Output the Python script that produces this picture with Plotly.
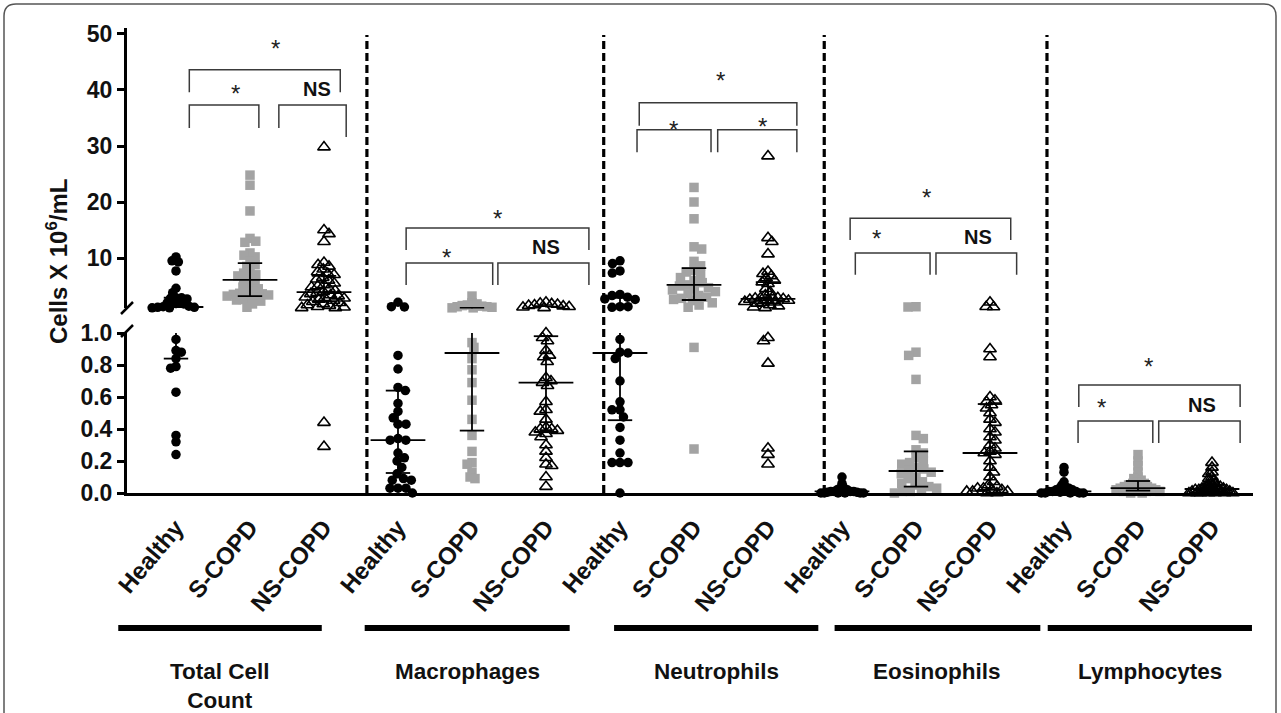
import math
import plotly.graph_objects as go

# ---------------- data ----------------
panels = ["Total Cell<br>Count", "Macrophages", "Neutrophils", "Eosinophils", "Lymphocytes"]
subjects = ["Healthy", "S-COPD", "NS-COPD"]

tcc_healthy = [10.2, 9.5, 9.3, 7.7, 4.6, 3.8, 2.9, 2.9, 2.8, 2.7, 2.0, 2.0, 1.9, 1.8, 1.4, 1.3, 1.2, 1.2,
               1.1, 1.1, 0.96, 0.89, 0.88, 0.84, 0.79, 0.78, 0.63, 0.36, 0.32, 0.24]
tcc_scopd = [24.8, 23.0, 18.4, 13.5, 13.0, 12.8, 10.9, 10.5, 10.2, 9.5, 8.8, 8.5, 7.5, 7.3, 7.0, 6.8, 6.2,
             6.0, 5.5, 5.0, 4.8, 4.5, 4.0, 3.8, 3.7, 3.6, 3.5, 3.4, 3.2, 3.0, 2.8, 2.6, 2.5, 2.3, 1.8, 1.2]
tcc_nscopd = [29.8, 15.0, 14.3, 12.9, 9.2, 8.8, 8.5, 8.0, 7.5, 7.2, 7.0, 6.5, 6.2, 6.0, 5.5, 5.2, 5.0, 4.8,
              4.5, 4.2, 4.0, 3.8, 3.6, 3.4, 3.2, 3.0, 2.9, 2.8, 2.6, 2.4, 2.2, 2.0, 1.8, 1.6, 1.5, 1.3,
              1.2, 1.1, 1.1, 0.44, 0.29]

mac_healthy = [2.1, 1.3, 1.25, 0.86, 0.775, 0.66, 0.64, 0.56, 0.51, 0.47, 0.43, 0.43, 0.34, 0.33, 0.33,
               0.25, 0.22, 0.20, 0.16, 0.12, 0.09, 0.08, 0.08, 0.03, 0.03, 0.03, 0.0]
mac_scopd = [3.2, 2.0, 1.8, 1.6, 1.5, 1.4, 1.3, 1.3, 1.2, 1.1, 1.1, 0.94, 0.91, 0.84, 0.77, 0.69, 0.58,
             0.46, 0.36, 0.26, 0.19, 0.18, 0.13, 0.10, 0.09]
mac_nscopd = [2.1, 1.9, 1.8, 1.7, 1.6, 1.5, 1.4, 1.3, 1.2, 1.1, 1.0, 0.97, 0.95, 0.89, 0.86, 0.85, 0.82,
              0.72, 0.70, 0.69, 0.67, 0.57, 0.52, 0.51, 0.46, 0.41, 0.40, 0.40, 0.39, 0.38, 0.37, 0.35,
              0.30, 0.26, 0.22, 0.18, 0.17, 0.10, 0.04]

neu_healthy = [9.5, 9.0, 7.7, 7.3, 3.5, 3.3, 3.0, 2.7, 2.6, 1.3, 1.3, 1.2, 0.96, 0.88, 0.875, 0.84, 0.70,
               0.57, 0.52, 0.52, 0.475, 0.41, 0.33, 0.25, 0.19, 0.19, 0.19, 0.0]
neu_scopd = [22.6, 20.0, 17.0, 12.0, 11.6, 9.4, 8.6, 7.8, 7.5, 7.0, 6.5, 6.0, 5.6, 5.2, 5.0, 4.7, 4.5,
             4.3, 4.0, 3.6, 3.3, 3.0, 2.8, 2.6, 2.4, 2.0, 1.6, 1.2, 0.91, 0.275]
neu_nscopd = [28.2, 13.6, 12.9, 10.7, 7.6, 7.2, 6.8, 6.4, 6.0, 5.7, 5.4, 4.5, 3.9, 3.4, 3.0, 2.9, 2.9,
              2.8, 2.7, 2.6, 2.5, 2.4, 2.2, 2.1, 2.0, 1.9, 1.6, 1.4, 1.2, 1.1, 0.97, 0.95, 0.81, 0.28,
              0.24, 0.18]

eos_healthy = [0.10, 0.06, 0.04, 0.03, 0.02, 0.02, 0.02, 0.01, 0.01, 0.01, 0.01, 0.01, 0.005, 0.005,
               0.0, 0.0, 0.0, 0.0, 0.0, 0.0]
eos_scopd = [1.3, 1.25, 0.88, 0.86, 0.71, 0.36, 0.34, 0.27, 0.25, 0.22, 0.20, 0.19, 0.18, 0.16, 0.15,
             0.14, 0.13, 0.12, 0.10, 0.09, 0.07, 0.06, 0.05, 0.04, 0.03, 0.02, 0.01, 0.01, 0.0]
eos_nscopd = [2.1, 1.3, 1.25, 0.90, 0.85, 0.60, 0.58, 0.57, 0.55, 0.53, 0.50, 0.46, 0.44, 0.40, 0.38,
              0.35, 0.33, 0.30, 0.28, 0.26, 0.25, 0.24, 0.20, 0.16, 0.13, 0.10, 0.07, 0.05, 0.04, 0.03,
              0.03, 0.02, 0.02, 0.01, 0.01, 0.01, 0.0, 0.0]

lym_healthy = [0.16, 0.13, 0.07, 0.05, 0.04, 0.03, 0.03, 0.02, 0.02, 0.02, 0.01, 0.01, 0.01, 0.01,
               0.005, 0.0, 0.0, 0.0, 0.0, 0.0]
lym_scopd = [0.24, 0.20, 0.17, 0.13, 0.10, 0.09, 0.08, 0.07, 0.06, 0.06, 0.05, 0.05, 0.04, 0.04, 0.04,
             0.03, 0.03, 0.03, 0.03, 0.02, 0.02, 0.02, 0.02, 0.01, 0.01, 0.01, 0.01, 0.0, 0.0]
lym_nscopd = [0.19, 0.16, 0.13, 0.12, 0.10, 0.09, 0.08, 0.07, 0.06, 0.05, 0.05, 0.04, 0.04, 0.04, 0.03,
              0.03, 0.03, 0.03, 0.02, 0.02, 0.02, 0.02, 0.02, 0.01, 0.01, 0.01, 0.01, 0.01, 0.0, 0.0,
              0.0, 0.0, 0.0, 0.0, 0.0]

# median and interquartile range per group (same order as the groups)
median_vals = [1.25, 6.1, 3.9, 0.33, 0.875, 0.69, 0.875, 5.2, 2.7, 0.01, 0.1375, 0.25, 0.01, 0.03, 0.025]
q1_vals = [0.84, 3.2, 2.3, 0.125, 0.39, 0.38, 0.455, 2.5, 1.9, 0.0, 0.04, 0.02, 0.0, 0.015, 0.01]
q3_vals = [2.9, 9.1, 6.8, 0.64, 1.07, 0.98, 2.9, 8.2, 5.7, 0.02, 0.26, 0.556, 0.02, 0.075, 0.05]

# significance labels per panel: overall, Healthy vs S-COPD, S-COPD vs NS-COPD
sig_overall = ["*", "*", "*", "*", "*"]
sig_h_s = ["*", "*", "*", "*", "*"]
sig_s_ns = ["NS", "NS", "*", "NS", "NS"]

lower_ticks = [0.0, 0.2, 0.4, 0.6, 0.8, 1.0]
upper_ticks = [10, 20, 30, 40, 50]

groups = [tcc_healthy, tcc_scopd, tcc_nscopd,
          mac_healthy, mac_scopd, mac_nscopd,
          neu_healthy, neu_scopd, neu_nscopd,
          eos_healthy, eos_scopd, eos_nscopd,
          lym_healthy, lym_scopd, lym_nscopd]

# ---------------- layout geometry ----------------
W, H = 1281, 713
PL, PR, PT, PB = 127, 1253, 28, 493
LOW_TOP = 333.0
UP_BOT = 308.4
LOW_RANGE = [0.0, 1.0]
UP_RANGE = [1.0, 51.07]
X_RANGE = [-0.662, 14.554]
BREAK = 1.0
XPX = (PR - PL) / (X_RANGE[1] - X_RANGE[0])

FONT = "Liberation Sans, Arial, Helvetica, sans-serif"
GRAY = "#a3a3a3"
BRK = "#3a3a3a"


def xp(px):
    return (px - PL) / (PR - PL)


def yp(py):
    return (PB - py) / (PB - PT)


def y_to_px(v):
    if v > BREAK:
        return UP_BOT - (v - UP_RANGE[0]) / (UP_RANGE[1] - UP_RANGE[0]) * (UP_BOT - PT)
    return PB - (v - LOW_RANGE[0]) / (LOW_RANGE[1] - LOW_RANGE[0]) * (PB - LOW_TOP)


def place(ys, d):
    n = len(ys)
    order = sorted(range(n), key=lambda i: ys[i])
    placed = []
    offs = [0.0] * n
    for k, i in enumerate(order):
        y = ys[i]
        cands = [0.0]
        for (px, py) in placed:
            dy = abs(py - y)
            if dy < d:
                dx = math.sqrt(d * d - dy * dy)
                cands += [px + dx, px - dx]
        sgn = 1 if k % 2 == 0 else -1
        cands.sort(key=lambda c: (round(abs(c), 4), -sgn * c))
        for c in cands:
            if all((c - px) ** 2 + (y - py) ** 2 >= d * d - 1e-6 for (px, py) in placed):
                offs[i] = c
                break
        placed.append((offs[i], y))
    return offs


def swarm(values, d, cap):
    ys = [y_to_px(v) for v in values]
    while True:
        offs = place(ys, d)
        if max(abs(o) for o in offs) <= cap or d < 2:
            break
        d *= 0.93
    return [o / XPX for o in offs]


fig = go.Figure()

marker_styles = [
    dict(symbol="circle", size=9.5, color="black", line=dict(width=0)),
    dict(symbol="square", size=9.5, color=GRAY, line=dict(width=0)),
    dict(symbol="triangle-up-open", size=11, color="black", line=dict(width=1.6, color="black")),
]
swarm_d = [8.0, 8.0, 8.5]

for gi, vals in enumerate(groups):
    si = gi % 3
    xc = gi
    offs = swarm(vals, swarm_d[si], 24)
    for axis, sel in (("y", lambda v: v <= BREAK), ("y2", lambda v: v > BREAK)):
        xs = [xc + o for v, o in zip(vals, offs) if sel(v)]
        ys = [v for v in vals if sel(v)]
        if not xs:
            continue
        fig.add_trace(go.Scatter(x=xs, y=ys, yaxis=axis, mode="markers",
                                 marker=marker_styles[si], cliponaxis=False,
                                 hoverinfo="skip"))

# median / IQR lines
MED_HW, CAP_HW = 0.37, 0.165
lines = {"y": ([], []), "y2": ([], [])}


def ax_of(v):
    return "y2" if v > BREAK else "y"


def seg(axis, x0, x1, y0, y1):
    lx, ly = lines[axis]
    lx += [x0, x1, None]
    ly += [y0, y1, None]


for gi in range(len(groups)):
    m, a, b = median_vals[gi], q1_vals[gi], q3_vals[gi]
    seg(ax_of(m), gi - MED_HW, gi + MED_HW, m, m)
    seg(ax_of(a), gi - CAP_HW, gi + CAP_HW, a, a)
    seg(ax_of(b), gi - CAP_HW, gi + CAP_HW, b, b)
    if ax_of(a) == ax_of(b):
        seg(ax_of(a), gi, gi, a, b)
    else:
        seg("y", gi, gi, a, BREAK)
        seg("y2", gi, gi, BREAK, b)

for axis, (lx, ly) in lines.items():
    fig.add_trace(go.Scatter(x=lx, y=ly, yaxis=axis, mode="lines",
                             line=dict(color="black", width=1.8), hoverinfo="skip"))

# significance brackets (offsets relative to the panel's first group)
# (x0, x1, y_top, y_left_leg_end, y_right_leg_end, axis)
bracket_specs = [
    [(0.18, 2.22, 43.6, 39.6, 39.6, "y2"), (0.18, 1.12, 37.3, 33.2, 33.2, "y2"), (1.39, 2.30, 37.3, 33.2, 31.6, "y2")],
    [(0.11, 2.58, 15.36, 11.43, 11.43, "y2"), (0.11, 1.28, 9.1, 5.18, 5.18, "y2"), (1.35, 2.58, 9.1, 5.18, 5.18, "y2")],
    [(0.26, 2.39, 37.7, 33.6, 33.6, "y2"), (0.23, 1.23, 32.9, 28.9, 28.9, "y2"), (1.32, 2.39, 32.9, 28.9, 28.9, "y2")],
    [(0.11, 2.28, 17.1, 13.2, 13.2, "y2"), (0.18, 1.19, 10.9, 7.0, 7.0, "y2"), (1.27, 2.36, 10.9, 7.0, 7.0, "y2")],
    [(0.20, 2.38, 0.675, 0.5375, 0.5375, "y"), (0.19, 1.20, 0.45, 0.3125, 0.3125, "y"), (1.28, 2.38, 0.45, 0.3125, 0.3125, "y")],
]
# label positions: (x offset, y, axis) for overall, H vs S, S vs NS
label_specs = [
    [(1.34, 48.4, "y2"), (0.80, 40.5, "y2"), (1.91, 40.2, "y2")],
    [(1.35, 18.2, "y2"), (0.66, 11.1, "y2"), (2.00, 12.0, "y2")],
    [(1.36, 42.7, "y2"), (0.72, 34.1, "y2"), (1.93, 34.5, "y2")],
    [(1.14, 21.8, "y2"), (0.47, 14.5, "y2"), (1.84, 13.75, "y2")],
    [(1.14, 0.83, "y"), (0.50, 0.575, "y"), (1.86, 0.55, "y")],
]

bl = {"y": ([], []), "y2": ([], [])}
annotations = []
for pi in range(len(panels)):
    g0 = pi * 3
    for (x0, x1, yt, yl, yr, axis) in bracket_specs[pi]:
        bx, by = bl[axis]
        bx += [g0 + x0, g0 + x0, g0 + x1, g0 + x1, None]
        by += [yl, yt, yt, yr, None]
    texts = [sig_overall[pi], sig_h_s[pi], sig_s_ns[pi]]
    for t, (xo, yv, axis) in zip(texts, label_specs[pi]):
        if t == "*":
            annotations.append(dict(x=g0 + xo, y=yv, xref="x", yref=axis, text="*", showarrow=False,
                                    font=dict(family=FONT, size=24, color="#222"), yshift=-6))
        else:
            annotations.append(dict(x=g0 + xo, y=yv, xref="x", yref=axis, text=t, showarrow=False,
                                    font=dict(family=FONT, size=20, color="#111", weight="bold")))

for axis, (bx, by) in bl.items():
    fig.add_trace(go.Scatter(x=bx, y=by, yaxis=axis, mode="lines",
                             line=dict(color=BRK, width=1.5), hoverinfo="skip"))

shapes = []
# dashed separators between panels
separator_x = [2.58, 5.78, 8.76, 11.77]
for sx in separator_x:
    shapes.append(dict(type="line", xref="x", yref="paper", x0=sx, x1=sx, y0=0, y1=yp(35),
                       line=dict(color="black", width=3.2, dash="8px,4px")))

# panel underline bars and names
bar_extent = [(-0.78, 1.97), (-0.45, 2.32), (-0.08, 2.68), (-0.10, 2.68), (-0.22, 2.54)]
for pi, name in enumerate(panels):
    g0 = pi * 3
    a, b = g0 + bar_extent[pi][0], g0 + bar_extent[pi][1]
    pa = (a - X_RANGE[0]) / (X_RANGE[1] - X_RANGE[0])
    pb = (b - X_RANGE[0]) / (X_RANGE[1] - X_RANGE[0])
    shapes.append(dict(type="line", xref="paper", yref="paper", x0=pa, x1=pb, y0=yp(628), y1=yp(628),
                       line=dict(color="black", width=6)))
    annotations.append(dict(x=(a + b) / 2, y=yp(657), xref="x", yref="paper", text=name,
                            showarrow=False, yanchor="top",
                            font=dict(family=FONT, size=22.5, color="#111", weight="bold")))

# axis break marks
for (x0, y0, x1, y1) in [(121, 314, 133, 302), (121, 337, 133, 325)]:
    shapes.append(dict(type="line", xref="paper", yref="paper", x0=xp(x0), y0=yp(y0), x1=xp(x1), y1=yp(y1),
                       line=dict(color="black", width=2.5)))

# outer frame with rounded top corners
r = 12
L_, R_, T_, B_ = 4, 1276, 4, 740
frame = (f"M {xp(L_)},{yp(B_)} L {xp(L_)},{yp(T_ + r)} Q {xp(L_)},{yp(T_)} {xp(L_ + r)},{yp(T_)} "
         f"L {xp(R_ - r)},{yp(T_)} Q {xp(R_)},{yp(T_)} {xp(R_)},{yp(T_ + r)} L {xp(R_)},{yp(B_)}")
shapes.append(dict(type="path", xref="paper", yref="paper", path=frame, line=dict(color="#555", width=1.5)))

# y-axis title
annotations.append(dict(x=xp(57), y=yp(262), xref="paper", yref="paper", text="Cells X 10<sup>6</sup>/mL",
                        textangle=-90, showarrow=False, xanchor="center", yanchor="middle",
                        font=dict(family=FONT, size=24, color="#111", weight="bold")))

ytick_font = dict(family=FONT, size=23, color="#111", weight="bold")
xtick_font = dict(family=FONT, size=24, color="#111", weight="bold")

fig.update_layout(
    width=W, height=H,
    margin=dict(l=PL, r=W - PR, t=PT, b=H - PB, autoexpand=False),
    paper_bgcolor="white", plot_bgcolor="white",
    showlegend=False,
    shapes=shapes, annotations=annotations,
    xaxis=dict(range=X_RANGE, domain=[0, 1], anchor="y", showline=True, linewidth=3, linecolor="black",
               tickmode="array", tickvals=list(range(15)), ticktext=subjects * 5, tickangle=-50,
               ticks="", ticklabelstandoff=8, showgrid=False, zeroline=False, tickfont=xtick_font,
               automargin=False),
    yaxis=dict(domain=[0, yp(LOW_TOP)], range=LOW_RANGE, anchor="x", showline=True, linewidth=3,
               linecolor="black", tickmode="array", tickvals=lower_ticks,
               ticktext=[f"{t:.1f}" for t in lower_ticks], ticks="outside", ticklen=7, tickwidth=2.5,
               tickcolor="black", showgrid=False, zeroline=False, tickfont=ytick_font, automargin=False),
    yaxis2=dict(domain=[yp(UP_BOT), 1], range=UP_RANGE, anchor="x", showline=True, linewidth=3,
                linecolor="black", tickmode="array", tickvals=upper_ticks,
                ticktext=[str(t) for t in upper_ticks], ticks="outside", ticklen=7, tickwidth=2.5,
                tickcolor="black", showgrid=False, zeroline=False, tickfont=ytick_font, automargin=False),
)

fig.write_html("out.html", config={"displayModeBar": False},
               post_script="document.body.style.margin='0px';document.body.style.overflow='hidden';")
